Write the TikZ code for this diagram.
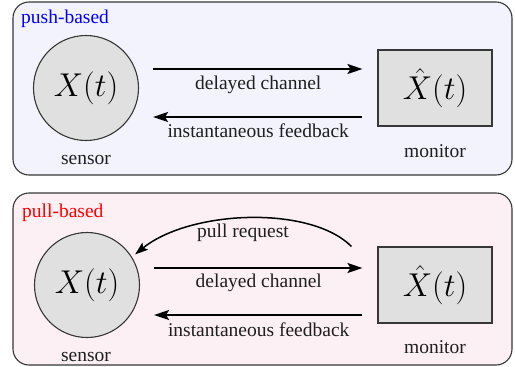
\RequirePackage{fix-cm}
\documentclass[tikz,border=0pt]{standalone}
\usepackage{fontspec}
\setmainfont{Liberation Serif}
\newfontfamily\lblfont{Liberation Serif}
\usetikzlibrary{arrows.meta,calc}
\definecolor{pushfill}{RGB}{243,243,253}
\definecolor{pullfill}{RGB}{252,240,244}
\definecolor{nodefill}{RGB}{224,224,224}
\definecolor{edgegray}{RGB}{55,55,55}
\begin{document}
\begin{tikzpicture}[x=1pt,y=-1pt,
  panel/.style={draw=edgegray,line width=1.1pt,rounded corners=16pt},
  sensorc/.style={circle,draw=edgegray,fill=nodefill,line width=1.1pt,minimum size=105pt,inner sep=0pt,font=\fontsize{33}{38}\selectfont},
  monbox/.style={rectangle,draw=edgegray,fill=nodefill,line width=1.1pt,minimum width=114pt,minimum height=76pt,inner sep=0pt,font=\fontsize{33}{38}\selectfont},
  lbl/.style={font=\lblfont\fontsize{19.5}{23}\selectfont,inner sep=0pt,text=black!88},
  arr/.style={line width=1.9pt,-{Stealth[length=15pt,width=10pt,inset=3pt]}},
  arrc/.style={line width=1.5pt,-{Stealth[length=13pt,width=9pt,inset=2.5pt]}}
]
\useasboundingbox (0,0) rectangle (515,367);
% panels
\draw[panel,fill=pushfill] (13,2) rectangle (512,175);
\draw[panel,fill=pullfill] (13,193) rectangle (512,365);
\node[lbl,anchor=base west,text=blue] (tpush) at (21,23) {push-based};
\node[lbl,anchor=base west,text=red] (tpull) at (22,217) {pull-based};

% top panel
\node[sensorc] (s1) at (86,88) {$X(t)$};
\node[monbox] (m1) at (435,88) {$\hat{X}(t)$};
\node[lbl,anchor=base] (ls1) at (86,164) {sensor};
\node[lbl,anchor=base] (lm1) at (435,157) {monitor};
\draw[arr,shorten <=14pt,shorten >=15pt] ([yshift=19pt]s1.east) -- ([yshift=19pt]m1.west)
  node[lbl,midway,below=6pt] {delayed channel};
\draw[arr,shorten <=15pt,shorten >=14pt] ([yshift=-29pt]m1.west) -- ([yshift=-29pt]s1.east)
  node[lbl,midway,below=6pt] {instantaneous feedback};

% bottom panel
\node[sensorc] (s2) at (87,285) {$X(t)$};
\node[monbox] (m2) at (435,285) {$\hat{X}(t)$};
\node[lbl,anchor=base] (ls2) at (86,361) {sensor};
\node[lbl,anchor=base] (lm2) at (435,353) {monitor};
\coordinate (ps) at ([xshift=-26pt]m2.north west);
\draw[arrc,shorten >=4pt] (ps) .. controls (310,205) and (190,210) .. (s2.32);
\node[lbl,anchor=base] (lpr) at (243,237) {pull request};
\draw[arr,shorten <=14pt,shorten >=15pt] ([yshift=17pt]s2.east) -- ([yshift=17pt]m2.west)
  node[lbl,midway,below=5pt] {delayed channel};
\draw[arr,shorten <=15pt,shorten >=14pt] ([yshift=-30pt]m2.west) -- ([yshift=-30pt]s2.east)
  node[lbl,midway,below=7pt] {instantaneous feedback};
\end{tikzpicture}
\end{document}
